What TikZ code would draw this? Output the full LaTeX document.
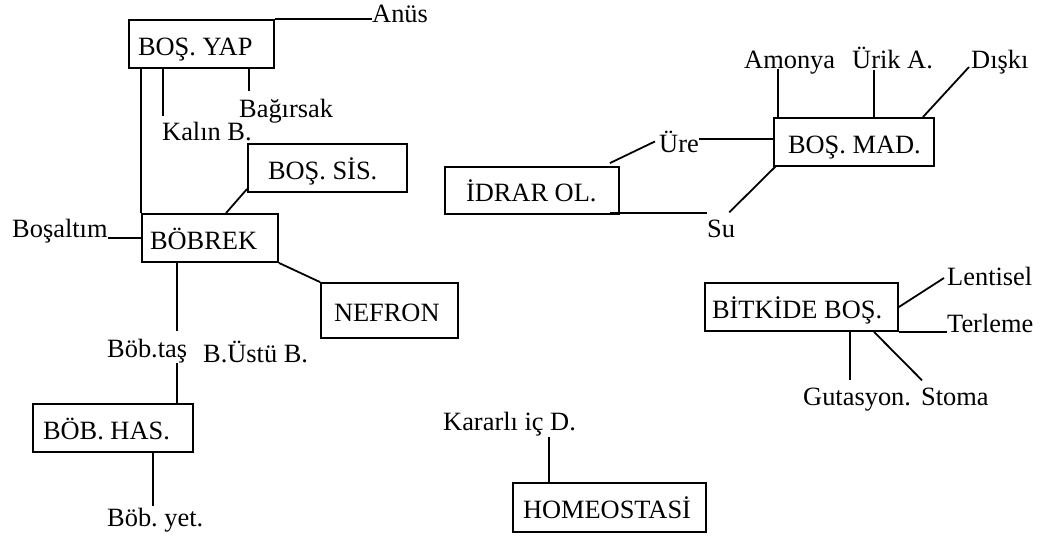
\documentclass[tikz,border=0pt]{standalone}
\usepackage{fontspec}
\setmainfont{Liberation Serif}
\usetikzlibrary{calc}
% left-aligned box text of fixed width (never wraps)
\newcommand\boxtext[2]{\makebox[#1][l]{#2}}
\begin{document}
\begin{tikzpicture}[x=1pt,y=-1pt,
  every node/.style={font=\fontsize{26.4}{30}\selectfont\frenchspacing},
  box/.style={draw, line width=1.8pt, inner ysep=0pt,
              text height=22pt, text depth=0pt},
  lbl/.style={anchor=base west, inner sep=0pt},
  link/.style={line width=1.8pt}]
\useasboundingbox (0,0) rectangle (1046,538);

% boxes
\node[box, minimum width=145pt, minimum height=48pt, inner xsep=9pt]  (yap) at (201.5,44)   {\boxtext{127pt}{BOŞ. YAP}};
\node[box, minimum width=159pt, minimum height=48pt, inner xsep=20pt] (sis) at (327.5,168)  {\boxtext{119pt}{BOŞ. SİS.}};
\node[box, minimum width=136pt, minimum height=48pt, inner xsep=8pt]  (bob) at (210,238)    {\boxtext{120pt}{BÖBREK}};
\node[box, minimum width=137pt, minimum height=55pt, inner xsep=13pt] (nef) at (389.5,310.5){\boxtext{111pt}{NEFRON}};
\node[box, minimum width=160pt, minimum height=48pt, inner xsep=10pt] (has) at (113,428)    {\boxtext{140pt}{BÖB. HAS.}};
\node[box, minimum width=160pt, minimum height=48pt, inner xsep=14pt] (mad) at (854,142)    {\boxtext{132pt}{BOŞ. MAD.}};
\node[box, minimum width=174pt, minimum height=47pt, inner xsep=21pt] (idr) at (532,190.5)  {\boxtext{132pt}{İDRAR OL.}};
\node[box, minimum width=193pt, minimum height=49pt, inner xsep=10pt] (hom) at (609.5,507.5){\boxtext{173pt}{HOMEOSTASİ}};
\node[box, minimum width=193pt, minimum height=48pt, inner xsep=7pt]  (bit) at (801.5,307)  {\boxtext{179pt}{BİTKİDE BOŞ.}};

% labels
\node[lbl] (anus)   at (372,22)  {Anüs};
\node[lbl] (bag)    at (239,117) {Bağırsak};
\node[lbl] (kal)    at (162,140) {Kalın B.};
\node[lbl] (bosalt) at (12,237)  {Boşaltım};
\node[lbl] (btas)   at (107,357) {Böb.taş};
\node[lbl] (bustu)  at (203,362) {B.Üstü B.};
\node[lbl] (byet)   at (107,526) {Böb. yet.};
\node[lbl] (amon)   at (744,68)  {Amonya};
\node[lbl] (urik)   at (852,68)  {Ürik A.};
\node[lbl] (diski)  at (971,68)  {Dışkı};
\node[lbl] (ure)    at (659,152) {Üre};
\node[lbl] (su)     at (707,237) {Su};
\node[lbl] (kar)    at (443,430) {Kararlı iç D.};
\node[lbl] (lent)   at (947,285) {Lentisel};
\node[lbl] (terl)   at (947,332) {Terleme};
\node[lbl] (gut)    at (803,405) {Gutasyon.};
\node[lbl] (stoma)  at (921,405) {Stoma};

% connectors: left cluster
\draw[link] (yap.north east) -- (yap.north east -| anus.west);
\coordinate (kalt) at ($(kal.north west)+(1,-5)$);
\draw[link] (yap.south -| kalt) -- (kalt);
\coordinate (bagt) at ($(bag.north west)+(10,-7)$);
\draw[link] (yap.south -| bagt) -- (bagt);
\draw[link] (bob.north west |- yap.south) -- (bob.north west);
\draw[link] ($(sis.south west)+(0,-4)$) -- ($(bob.north)+(16,0)$);
\draw[link] (bob.west -| bosalt.east) -- (bob.west);
\coordinate (btt) at ($(btas.north east)+(-10,-7)$);
\draw[link] (bob.south -| btt) -- (btt);
\coordinate (btb) at ($(btas.south east)+(-10,0)$);
\draw[link] (btb) -- (has.north -| btb);
\draw[link] (bob.south east) -- (nef.north west);
\coordinate (byt) at ($(byet.north west)+(46,-1)$);
\draw[link] (has.south -| byt) -- (byt);

% connectors: waste substances
\coordinate (amb) at ($(amon.base west)+(34,1)$);
\draw[link] (amb) -- (mad.north -| amb);
\coordinate (urb) at ($(urik.base west)+(22,2)$);
\draw[link] (urb) -- (mad.north -| urb);
\draw[link] ($(diski.base west)+(-2,-1)$) -- ($(mad.north east)+(-12,0)$);
\coordinate (mw) at ($(mad.west)+(0,-3)$);
\draw[link] (mw -| ure.east) -- (mw);
\draw[link] ($(ure.west)+(-4,0)$) -- ($(idr.north east)+(-10,-3)$);
\coordinate (idb) at ($(idr.south east)+(-10,-2)$);
\draw[link] (idb) -- (idb -| su.west);
\draw[link] ($(su.north east)+(-6,-7)$) -- ($(mad.south west)+(3,-1)$);

% connectors: homeostasis and plants
\coordinate (kb) at ($(kar.base west)+(106,7)$);
\draw[link] (kb) -- (hom.north -| kb);
\draw[link] (bit.east) -- ($(lent.base west)+(-3,-7)$);
\draw[link] (bit.south east) -- (bit.south east -| terl.west);
\coordinate (gt) at ($(gut.north west)+(47,-7)$);
\draw[link] (bit.south -| gt) -- (gt);
\draw[link] ($(bit.south)+(72.5,0)$) -- ($(stoma.north west)+(1,-7)$);
\end{tikzpicture}
\end{document}
